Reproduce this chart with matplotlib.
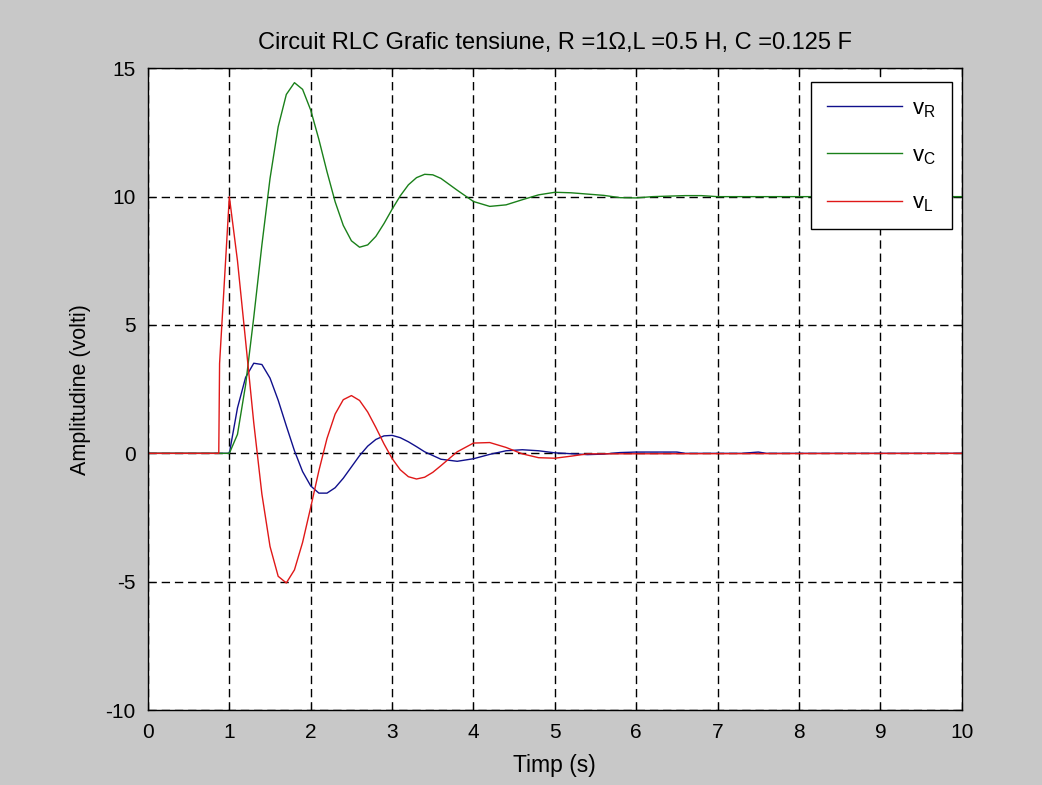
import numpy as np
import matplotlib
matplotlib.use('Agg')
import matplotlib.pyplot as plt

plt.rcParams['font.family'] = ['Liberation Sans', 'DejaVu Sans']
plt.rcParams['axes.unicode_minus'] = False
plt.rcParams['mathtext.default'] = 'regular'

# timp (s) si tensiuni
t_R = [0, 1.0, 1.1, 1.2, 1.3, 1.4, 1.5, 1.6, 1.7, 1.8, 1.9, 2.0, 2.1, 2.2, 2.3, 2.4,
       2.5, 2.6, 2.7, 2.8, 2.9, 3.0, 3.1, 3.2, 3.3, 3.4, 3.6, 3.8, 4.0, 4.2, 4.4, 4.6,
       4.8, 5.0, 5.4, 5.6, 5.8, 6.0, 6.5, 6.6, 7.3, 7.5, 7.6, 10]
v_R = [0, 0, 1.77, 2.96, 3.51, 3.46, 2.93, 2.07, 1.07, 0.10, -0.71, -1.27, -1.55, -1.55,
       -1.34, -0.97, -0.53, -0.09, 0.28, 0.54, 0.68, 0.70, 0.61, 0.45, 0.26, 0.06, -0.23,
       -0.31, -0.21, -0.04, 0.10, 0.14, 0.10, 0.02, -0.05, -0.03, 0.03, 0.05, 0.05, 0.0,
       0.0, 0.05, 0.0, 0]

t_C = [0, 1.0, 1.1, 1.2, 1.3, 1.4, 1.5, 1.6, 1.7, 1.8, 1.9, 2.0, 2.1, 2.2, 2.3, 2.4,
       2.5, 2.6, 2.7, 2.8, 2.9, 3.0, 3.1, 3.2, 3.3, 3.4, 3.5, 3.6, 3.8, 4.0, 4.2, 4.4,
       4.6, 4.8, 5.0, 5.2, 5.6, 5.8, 6.0, 6.2, 6.6, 6.8, 7.0, 10]
v_C = [0, 0, 0.74, 2.67, 5.30, 8.12, 10.71, 12.72, 13.98, 14.44, 14.18, 13.37, 12.23,
       10.97, 9.80, 8.88, 8.28, 8.03, 8.12, 8.45, 8.95, 9.51, 10.03, 10.46, 10.74, 10.87,
       10.85, 10.71, 10.25, 9.81, 9.62, 9.68, 9.88, 10.07, 10.17, 10.15, 10.05, 9.96,
       9.95, 10.0, 10.04, 10.04, 10.0, 10]

t_L = [0, 0.87, 0.88, 1.0, 1.1, 1.2, 1.3, 1.4, 1.5, 1.6, 1.7, 1.8, 1.9, 2.0, 2.1, 2.2,
       2.3, 2.4, 2.5, 2.6, 2.7, 2.8, 2.9, 3.0, 3.1, 3.2, 3.3, 3.4, 3.5, 3.6, 3.8, 4.0,
       4.2, 4.4, 4.6, 4.8, 5.0, 5.2, 5.4, 10]
v_L = [0, 0, 3.5, 10.0, 7.50, 4.37, 1.19, -1.59, -3.63, -4.79, -5.05, -4.54, -3.47,
       -2.10, -0.68, 0.58, 1.53, 2.09, 2.25, 2.06, 1.61, 1.01, 0.37, -0.20, -0.64, -0.91,
       -1.00, -0.93, -0.74, -0.48, 0.06, 0.40, 0.42, 0.23, -0.02, -0.17, -0.19, -0.11,
       -0.02, 0]

fig = plt.figure(figsize=(10.42, 7.85), dpi=100, facecolor='#c8c8c8')
ax = fig.add_axes([0.142, 0.0955, 0.781, 0.8175])
ax.set_facecolor('white')

ax.plot(t_R, v_R, color='#10108c', lw=1.0, label='$v_R$')
ax.plot(t_C, v_C, color='#1a801a', lw=1.0, label='$v_C$')
ax.plot(t_L, v_L, color='#e01818', lw=1.0, label='$v_L$')

ax.set_xlim(0, 10)
ax.set_ylim(-10, 15)
ax.set_xticks(range(0, 11))
ax.set_yticks([-10, -5, 0, 5, 10, 15])
ax.grid(True, color='black', linestyle=(0, (6, 3.5)), linewidth=1.0)
ax.set_axisbelow(True)
ax.tick_params(direction='in', top=True, right=True, labelsize=15, length=5, pad=9)
for s in ax.spines.values():
    s.set_linewidth(1.0)

ax.set_title('Circuit RLC Grafic tensiune, R =1\u03a9,L =0.5 H, C =0.125 F', fontsize=17, pad=14)
ax.set_xlabel('Timp (s)', fontsize=16.5, labelpad=9)
ax.set_ylabel('Amplitudine (volti)', fontsize=15.5, labelpad=10)

leg = ax.legend(loc='upper right', bbox_to_anchor=(0.9877, 0.978), borderaxespad=0,
                fontsize=16, frameon=True, fancybox=False, edgecolor='black', framealpha=1,
                handlelength=3.4, handletextpad=0.45, labelspacing=1.15, borderpad=0.7)
leg.get_frame().set_linewidth(1.0)

fig.savefig('out.png', dpi=100, facecolor=fig.get_facecolor())
